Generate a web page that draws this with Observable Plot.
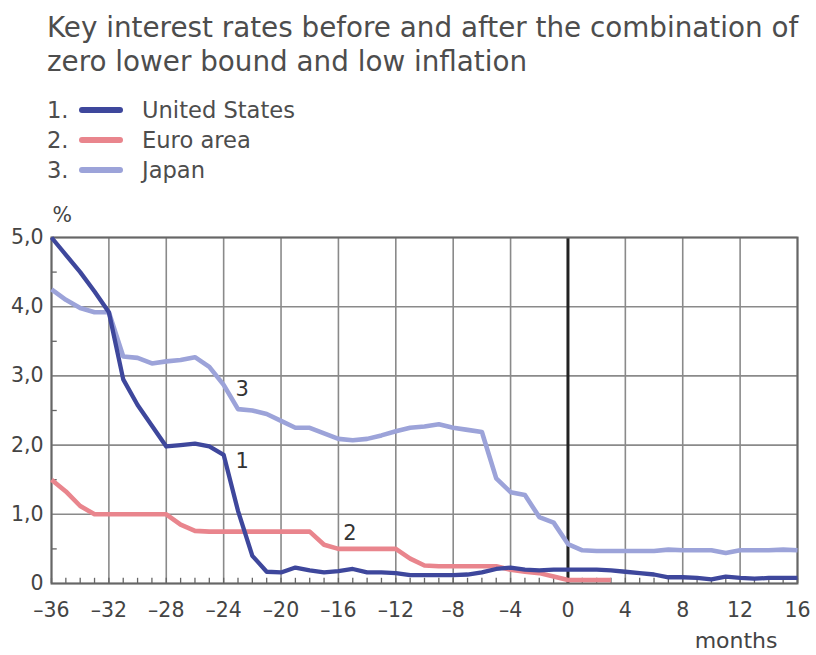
<!DOCTYPE html>
<html>
<head>
<meta charset="utf-8">
<script src="https://cdn.jsdelivr.net/npm/d3@7"></script>
<script src="https://cdn.jsdelivr.net/npm/@observablehq/plot@0.6"></script>
<style>
  html, body { margin: 0; padding: 0; background: #fff; }
  body { width: 816px; height: 655px; overflow: hidden; font-family: "DejaVu Sans", sans-serif; }
  #wrap { position: relative; width: 816px; height: 655px; }
  #title { position: absolute; left: 47px; top: 11px; font-size: 27.8px; line-height: 34px; color: #4d4d4d; white-space: nowrap; }
  .row { position: absolute; left: 47px; font-size: 22.6px; line-height: 30px; color: #4d4d4d; white-space: nowrap; }
  .num { display: inline-block; width: 32px; }
  .swatch { display: inline-block; width: 44px; height: 6px; border-radius: 3px; vertical-align: 0.2em; margin-right: 19px; }
  #chart { position: absolute; left: 0; top: 195px; }
</style>
</head>
<body>
<div id="wrap">
  <div id="title"></div>
  <div id="legend"></div>
  <div id="chart"></div>
</div>
<script>
// ---- data ----
const titleLines = ["Key interest rates before and after the combination of", "zero lower bound and low inflation"];
const seriesNames = ["United States", "Euro area", "Japan"];
const seriesColors = ["#3e479c", "#e9858d", "#9ca3d9"];
const seriesLabels = ["1", "2", "3"];
const labelX = [-22.7, -15.2, -22.7];
const labelY = [1.76, 0.72, 2.80];

const usMonths = d3.range(-36, 17);
const usRates = [5.0, 4.75, 4.5, 4.22, 3.92, 2.95, 2.58, 2.28, 1.98, 2.0, 2.02, 1.98, 1.86, 1.05, 0.4, 0.17, 0.16, 0.23, 0.19, 0.16, 0.18, 0.21, 0.16, 0.16, 0.15, 0.12, 0.12, 0.12, 0.12, 0.13, 0.16, 0.21, 0.23, 0.2, 0.19, 0.2, 0.2, 0.2, 0.2, 0.19, 0.17, 0.15, 0.13, 0.09, 0.09, 0.08, 0.06, 0.1, 0.08, 0.07, 0.08, 0.08, 0.08];

const euroMonths = d3.range(-36, 4);
const euroRates = [1.5, 1.33, 1.12, 1.0, 1.0, 1.0, 1.0, 1.0, 1.0, 0.85, 0.76, 0.75, 0.75, 0.75, 0.75, 0.75, 0.75, 0.75, 0.75, 0.56, 0.5, 0.5, 0.5, 0.5, 0.5, 0.36, 0.26, 0.25, 0.25, 0.25, 0.25, 0.25, 0.2, 0.17, 0.15, 0.1, 0.05, 0.05, 0.05, 0.05];

const jpMonths = d3.range(-36, 17);
const jpRates = [4.25, 4.1, 3.98, 3.92, 3.92, 3.28, 3.26, 3.18, 3.21, 3.23, 3.27, 3.13, 2.87, 2.52, 2.5, 2.45, 2.35, 2.25, 2.25, 2.17, 2.09, 2.07, 2.09, 2.14, 2.2, 2.25, 2.27, 2.3, 2.25, 2.22, 2.19, 1.52, 1.32, 1.28, 0.96, 0.88, 0.57, 0.48, 0.47, 0.47, 0.47, 0.47, 0.47, 0.49, 0.48, 0.48, 0.48, 0.44, 0.48, 0.48, 0.48, 0.49, 0.48];

const xTicks = d3.range(-36, 17, 4);
const yTicks = [0, 1, 2, 3, 4, 5];
const xMinor = d3.range(-36, 17, 1);
const yMinor = [0.5, 1.5, 2.5, 3.5, 4.5];
const yAxisLabel = "%";
const xAxisLabel = "months";

// ---- header ----
document.getElementById("title").innerHTML = titleLines.join("<br>");
const legend = document.getElementById("legend");
seriesNames.forEach((name, i) => {
  const row = document.createElement("div");
  row.className = "row";
  row.style.top = (95 + i * 30) + "px";
  row.innerHTML = `<span class="num">${i + 1}.</span><span class="swatch" style="background:${seriesColors[i]}"></span>${name}`;
  legend.appendChild(row);
});

// ---- chart ----
const toRows = (months, rates, s) => months.map((m, i) => ({month: m, rate: rates[i], series: s}));
const us = toRows(usMonths, usRates, 0);
const euro = toRows(euroMonths, euroRates, 1);
const jp = toRows(jpMonths, jpRates, 2);
const labels = seriesLabels.map((t, i) => ({text: t, x: labelX[i], y: labelY[i]}));

const fmtX = d => d < 0 ? "\u2013" + Math.abs(d) : String(d);
const fmtY = d => d === 0 ? "0" : d.toFixed(1).replace(".", ",");

const chart = Plot.plot({
  width: 816,
  height: 460,
  marginTop: 42,
  marginBottom: 72,
  marginLeft: 51,
  marginRight: 19,
  style: {fontFamily: "DejaVu Sans, sans-serif", fontSize: "20.5px", color: "#444", background: "#fff"},
  x: {domain: [-36, 16]},
  y: {domain: [0, 5]},
  marks: [
    Plot.ruleX(xTicks, {stroke: "#8a8a8a", strokeWidth: 1.6}),
    Plot.ruleY(yTicks, {stroke: "#8a8a8a", strokeWidth: 1.6}),
    Plot.ruleX(xMinor, {y1: 0, y2: 0.075, stroke: "#666", strokeWidth: 1.3}),
    Plot.ruleY(yMinor, {x1: -36, x2: -35.6, stroke: "#666", strokeWidth: 1.3}),
    Plot.ruleX([0], {stroke: "#222", strokeWidth: 3}),
    Plot.frame({stroke: "#666", strokeWidth: 2}),
    Plot.line(jp, {x: "month", y: "rate", stroke: seriesColors[2], strokeWidth: 4.6, strokeLinejoin: "round", strokeLinecap: "butt"}),
    Plot.line(euro, {x: "month", y: "rate", stroke: seriesColors[1], strokeWidth: 4.6, strokeLinejoin: "round", strokeLinecap: "butt"}),
    Plot.line(us, {x: "month", y: "rate", stroke: seriesColors[0], strokeWidth: 4.3, strokeLinejoin: "round", strokeLinecap: "butt"}),
    Plot.axisX(xTicks, {tickSize: 0, tickPadding: 19, tickFormat: fmtX, label: null, fill: "#444"}),
    Plot.axisY(yTicks, {tickSize: 0, tickPadding: 8, tickFormat: fmtY, label: null, fill: "#444"}),
    Plot.text(labels, {x: "x", y: "y", text: "text", fill: "#333", fontSize: 21}),
    Plot.text([yAxisLabel], {frameAnchor: "top-left", textAnchor: "start", lineAnchor: "middle", dy: -22, dx: 1, fill: "#444"}),
    Plot.text([xAxisLabel], {frameAnchor: "bottom-right", textAnchor: "end", lineAnchor: "middle", dx: -20, dy: 57, fill: "#444", fontSize: 22})
  ]
});
document.getElementById("chart").appendChild(chart);
</script>
</body>
</html>
